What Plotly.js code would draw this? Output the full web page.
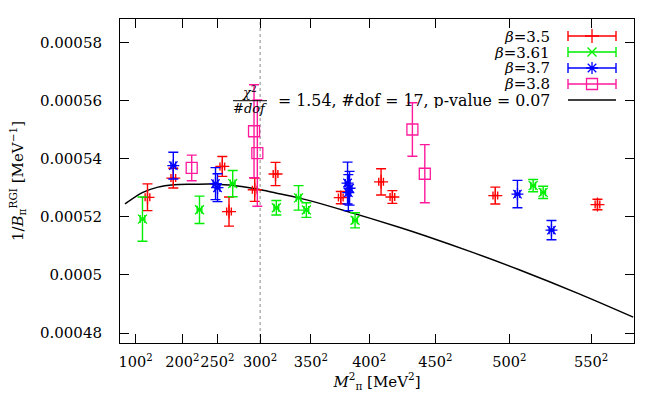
<!DOCTYPE html>
<html>
<head>
<meta charset="utf-8">
<script src="https://cdn.plot.ly/plotly-3.0.1.min.js"></script>
<style>html,body{margin:0;padding:0;background:#fff;}#chart{width:664px;height:400px;}</style>
</head>
<body>
<div id="chart"></div>
<script>
// M_pi^2 in MeV^2, 1/B_pi^RGI in MeV^-1
const redX = [17640, 34220, 65690, 69990, 86500, 99860, 141740, 167620, 174880, 240970, 306550];
const redY = [0.0005267, 0.0005333, 0.0005373, 0.0005218, 0.0005293, 0.0005347, 0.0005266, 0.0005320, 0.0005268, 0.0005273, 0.0005242];
const redErr = [0.0000046, 0.0000034, 0.0000034, 0.0000050, 0.0000040, 0.0000040, 0.0000021, 0.0000045, 0.0000022, 0.0000029, 0.0000018];
const redXErr = [1500, 1500, 1500, 1500, 1500, 1500, 1500, 1500, 1500, 1500, 1500];

const greenX = [14430, 51040, 72370, 100370, 114630, 119640, 150920, 265250, 271680];
const greenY = [0.0005192, 0.0005224, 0.0005314, 0.0005231, 0.0005265, 0.0005223, 0.0005188, 0.0005307, 0.0005284];
const greenErr = [0.0000076, 0.0000047, 0.0000045, 0.0000025, 0.0000042, 0.0000025, 0.0000026, 0.0000021, 0.0000021];
const greenXErr = [1500, 1500, 1500, 1500, 1500, 1500, 1500, 1500, 1500];

const blueX = [34220, 61320, 62600, 146100, 147390, 146600, 255170, 277010];
const blueY = [0.0005376, 0.0005314, 0.0005300, 0.0005316, 0.0005298, 0.0005283, 0.0005278, 0.0005154];
const blueErr = [0.0000046, 0.0000055, 0.0000048, 0.0000072, 0.0000058, 0.0000062, 0.0000047, 0.0000033];
const blueXErr = [1500, 1500, 1500, 1500, 1500, 1500, 1500, 1500];

const pinkX = [46030, 86050, 88170, 187730, 195690];
const pinkY = [0.0005368, 0.0005494, 0.0005419, 0.0005500, 0.0005348];
const pinkErr = [0.0000044, 0.0000160, 0.0000183, 0.0000092, 0.0000100];

const fitX = [3190, 14300, 24390, 34670, 45580, 58430, 69990, 87140, 99990, 114950, 144950, 179180, 196330, 224140, 256260, 294800, 329480];
const fitY = [0.0005244, 0.0005283, 0.0005302, 0.0005310, 0.0005312, 0.0005313, 0.0005309, 0.0005296, 0.0005282, 0.0005265, 0.0005220, 0.0005164, 0.0005134, 0.0005082, 0.0005018, 0.0004935, 0.0004855];

const xTickVals = [10000, 40000, 62500, 90000, 122500, 160000, 202500, 250000, 302500];
const xTickText = ['100<sup>2</sup>', '200<sup>2</sup>', '250<sup>2</sup>', '300<sup>2</sup>', '350<sup>2</sup>', '400<sup>2</sup>', '450<sup>2</sup>', '500<sup>2</sup>', '550<sup>2</sup>'];
const yTickVals = [0.00048, 0.0005, 0.00052, 0.00054, 0.00056, 0.00058];
const yTickText = ['0.00048', '0.0005', '0.00052', '0.00054', '0.00056', '0.00058'];
const refMpi2 = 90000;

const legendNames = ['<i>β</i>=3.5', '<i>β</i>=3.61', '<i>β</i>=3.7', '<i>β</i>=3.8'];
const fitLabel = '= 1.54, #dof = 17, p-value = 0.07';

const FONT = "'DejaVu Serif', 'Liberation Serif', serif";
const FS = 15;
const RED = '#ff0000', GREEN = '#00ee00', BLUE = '#0000ff', PINK = '#ff1a9c';

function series(x, y, ey, ex, color, symbol, size) {
  const t = {
    x: x, y: y, type: 'scatter', mode: 'markers',
    marker: {symbol: symbol, size: size, color: color, line: {color: color, width: 1.3}},
    error_y: {type: 'data', array: ey, visible: true, color: color, thickness: 1.4, width: 5},
    showlegend: false, hoverinfo: 'skip'
  };
  if (ex) t.error_x = {type: 'data', array: ex, visible: true, color: color, thickness: 1.4, width: 4};
  return t;
}

const traces = [
  {x: fitX, y: fitY, type: 'scatter', mode: 'lines', line: {color: '#000', width: 1.5, shape: 'spline', smoothing: 0.8}, showlegend: false, hoverinfo: 'skip'},
  series(redX, redY, redErr, redXErr, RED, 'cross-thin-open', 10),
  series(greenX, greenY, greenErr, greenXErr, GREEN, 'x-thin-open', 9),
  series(blueX, blueY, blueErr, blueXErr, BLUE, 'asterisk-open', 10),
  series(pinkX, pinkY, pinkErr, null, PINK, 'square-open', 11)
];

// legend samples (drawn on an overlay axis spanning the plot area, 0..1)
const legRows = [0.9475, 0.8981, 0.8488, 0.7994, 0.75];
const legColors = [RED, GREEN, BLUE, PINK];
const legSymbols = ['cross-thin-open', 'x-thin-open', 'asterisk-open', 'square-open'];
const legSizes = [10, 9, 10, 11];
const legCx = 0.9183, legHalf = 0.0467, legTextX = 0.8405;
for (let i = 0; i < 4; i++) {
  traces.push({
    x: [legCx], y: [legRows[i]], xaxis: 'x2', yaxis: 'y2', type: 'scatter', mode: 'markers',
    marker: {symbol: legSymbols[i], size: legSizes[i], color: legColors[i], line: {color: legColors[i], width: 1.3}},
    error_x: {type: 'constant', value: legHalf, visible: true, color: legColors[i], thickness: 1.4, width: 5},
    showlegend: false, hoverinfo: 'skip'
  });
}

const annotations = legendNames.map((n, i) => ({
  xref: 'paper', yref: 'paper', x: legTextX, y: legRows[i], xanchor: 'right', yanchor: 'middle',
  text: n, showarrow: false, height: 15, font: {family: FONT, size: FS, color: '#000'}
}));
annotations.push({xref: 'paper', yref: 'paper', x: legTextX, y: legRows[4], xanchor: 'right', yanchor: 'middle',
  text: fitLabel, showarrow: false, height: 15, font: {family: FONT, size: 15.8, color: '#000'}});
annotations.push({xref: 'paper', yref: 'paper', x: 0.2529, y: 0.7745, xanchor: 'center', yanchor: 'middle',
  text: '<i>χ</i><sup>2</sup>', showarrow: false, font: {family: FONT, size: 13, color: '#000'}});
annotations.push({xref: 'paper', yref: 'paper', x: 0.2529, y: 0.7253, xanchor: 'center', yanchor: 'middle',
  text: '<i>#dof</i>', showarrow: false, font: {family: FONT, size: 13, color: '#000'}});

const shapes = [
  {type: 'line', xref: 'x', yref: 'paper', x0: refMpi2, x1: refMpi2, y0: 0, y1: 1, layer: 'below',
   line: {color: '#b0b0b0', width: 1.5, dash: 'dot'}},
  {type: 'line', xref: 'paper', yref: 'paper', x0: legCx - legHalf, x1: legCx + legHalf, y0: legRows[4], y1: legRows[4],
   line: {color: '#000', width: 1.5}},
  {type: 'line', xref: 'paper', yref: 'paper', x0: 0.2198, x1: 0.286, y0: 0.7478, y1: 0.7478,
   line: {color: '#000', width: 1}}
];

const layout = {
  width: 664, height: 400,
  margin: {l: 120, r: 30, t: 19, b: 57},
  paper_bgcolor: '#fff', plot_bgcolor: '#fff',
  showlegend: false,
  font: {family: FONT, size: FS, color: '#000'},
  xaxis: {
    range: [0, 330000], tickvals: xTickVals, ticktext: xTickText, tickangle: 0,
    ticks: 'inside', ticklen: 9, tickwidth: 1, tickcolor: '#000',
    showline: true, linecolor: '#000', linewidth: 1, mirror: 'ticks',
    showgrid: false, zeroline: false, ticklabelstandoff: 6,
    tickfont: {family: FONT, size: 14.5},
    title: {text: '<i>M</i><sup>2</sup><sub>π</sub> [MeV<sup>2</sup>]', font: {family: FONT, size: FS}, standoff: 6}
  },
  yaxis: {
    range: [0.0004766, 0.000588], tickvals: yTickVals, ticktext: yTickText,
    ticks: 'inside', ticklen: 9, tickwidth: 1, tickcolor: '#000',
    showline: true, linecolor: '#000', linewidth: 1, mirror: 'ticks',
    showgrid: false, zeroline: false, ticklabelstandoff: 14,
    tickfont: {family: FONT, size: FS},
    title: {text: '1/<i>B</i><sub>π</sub><sup>RGI</sup> [MeV<sup>−1</sup>]', font: {family: FONT, size: FS}, standoff: 12}
  },
  xaxis2: {overlaying: 'x', anchor: 'y2', range: [0, 1], visible: false, fixedrange: true},
  yaxis2: {overlaying: 'y', anchor: 'x2', range: [0, 1], visible: false, fixedrange: true},
  annotations: annotations,
  shapes: shapes
};

Plotly.newPlot('chart', traces, layout, {displayModeBar: false, staticPlot: true});
</script>
</body>
</html>
